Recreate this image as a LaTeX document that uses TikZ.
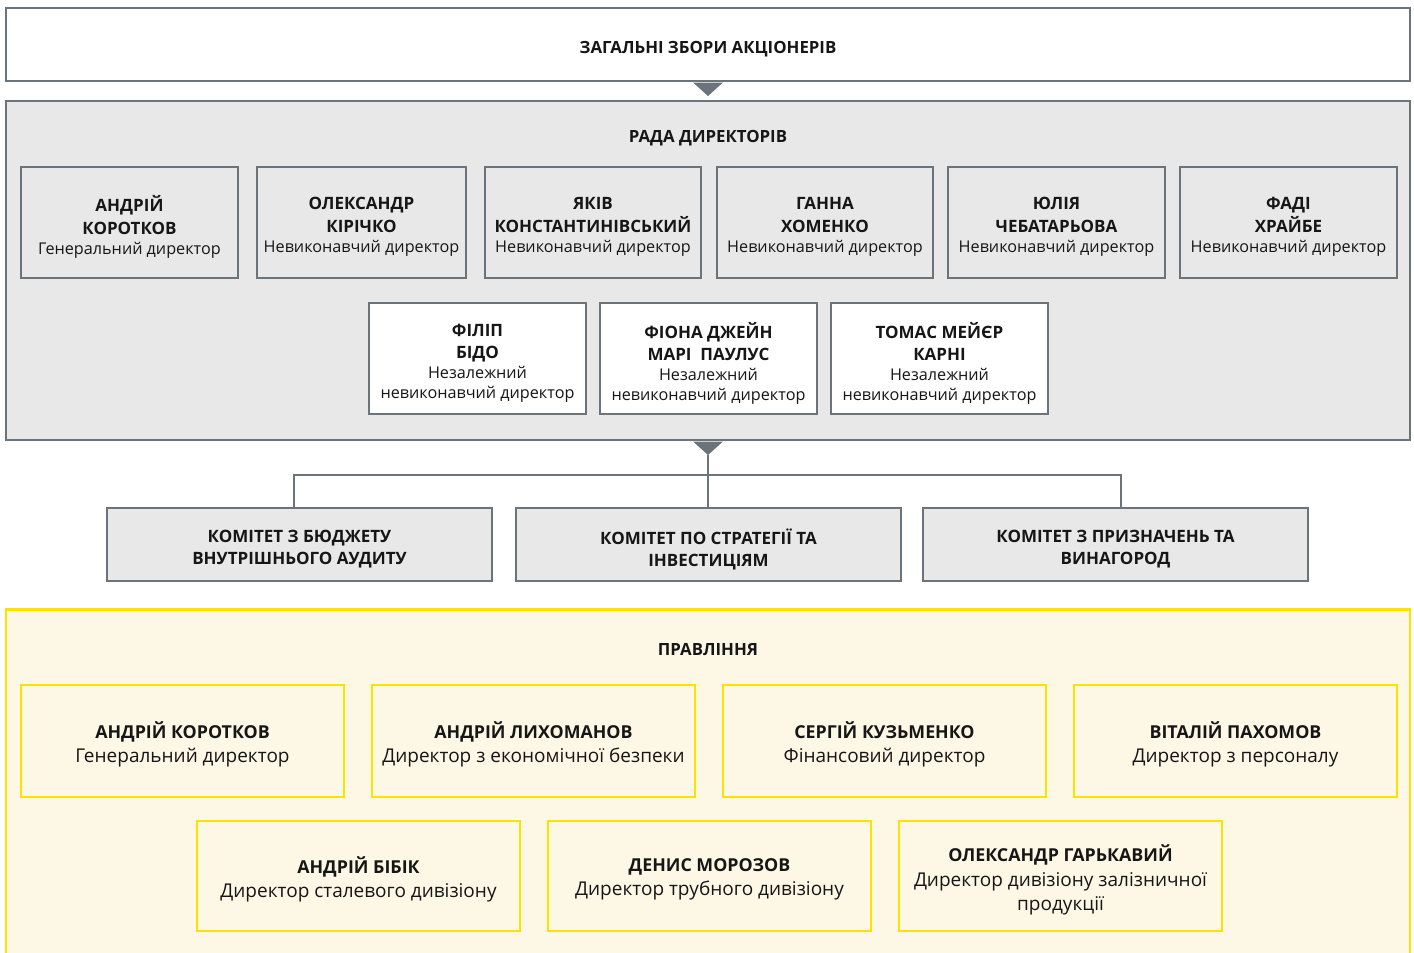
\documentclass[tikz,border=0pt]{standalone}
\usepackage{fontspec}
\setmainfont{Open Sans}
\definecolor{gline}{HTML}{6B737B}
\definecolor{gfill}{HTML}{E8E8E8}
\definecolor{yline}{HTML}{FFE100}
\definecolor{yfill}{HTML}{FDF7E5}
\definecolor{ink}{HTML}{161616}
\newcommand\nmA[1]{{\fontsize{17}{21}\selectfont\bfseries #1}}
\newcommand\sbA[1]{{\fontsize{16.2}{21}\selectfont #1}}
\newcommand\nmB[1]{{\fontsize{17.8}{24}\selectfont\bfseries #1}}
\newcommand\sbB[1]{{\fontsize{19}{24}\selectfont #1}}
\tikzset{
  gbox/.style={draw=gline, line width=2.4pt, rectangle, inner sep=0pt},
  ybox/.style={draw=yline, line width=2.6pt, fill=yfill, rectangle, inner sep=0pt},
  txA/.style={inner sep=0pt, align=center, text=ink, font=\fontsize{16}{21}\selectfont},
  txB/.style={inner sep=0pt, align=center, text=ink, font=\fontsize{18}{24}\selectfont},
  conn/.style={draw=gline, line width=1.2pt},
  ttl/.style={font=\fontsize{16.8}{20}\selectfont\bfseries, text=ink, inner sep=0pt},
}
\begin{document}
\begin{tikzpicture}[x=1pt,y=-1pt]
\useasboundingbox (0,0) rectangle (1414,953);
\clip (0,0) rectangle (1414,953);
\fill[white] (0,0) rectangle (1414,953);
% top
\node[gbox, fill=white, minimum width=1404, minimum height=73] (gm) at (708,44.5) {};
\node[ttl] (gmt) at (708,49) {ЗАГАЛЬНІ ЗБОРИ АКЦІОНЕРІВ};
% board
\node[gbox, fill=gfill, minimum width=1404, minimum height=339] (bd) at (708,270.5) {};
\node[ttl] (bdt) at (708,138) {РАДА ДИРЕКТОРІВ};
\fill[gline] (693,82.5) -- (723,82.5) -- (708,96) -- cycle;
% board row 1
\foreach \n/\xa/\xb/\a/\b/\s in {
  b1/21/238/АНДРІЙ/КОРОТКОВ/Генеральний директор,
  b2/257/466/ОЛЕКСАНДР/КІРІЧКО/Невиконавчий директор,
  b3/485/701/ЯКІВ/КОНСТАНТИНІВСЬКИЙ/Невиконавчий директор,
  b4/717/933/ГАННА/ХОМЕНКО/Невиконавчий директор,
  b5/948/1165/ЮЛІЯ/ЧЕБАТАРЬОВА/Невиконавчий директор,
  b6/1180/1397/ФАДІ/ХРАЙБЕ/Невиконавчий директор}{
  \node[gbox, fill=gfill, minimum width={\xb-\xa}, minimum height=111] (\n) at ({(\xa+\xb)/2},222.5) {};
  \node[txA] (\n t) at ({(\xa+\xb)/2},227) {\nmA{\a}\\[2pt]\nmA{\b}\\[-1pt]\sbA{\s}};
}
% board row 2
\foreach \n/\xa/\xb/\a/\b in {
  r1/369/586/ФІЛІП/БІДО,
  r2/600/817/ФІОНА ДЖЕЙН/МАРІ\ \ ПАУЛУС,
  r3/831/1048/ТОМАС МЕЙЄР/КАРНІ}{
  \node[gbox, fill=white, minimum width={\xb-\xa}, minimum height=111] (\n) at ({(\xa+\xb)/2},358.5) {};
  \node[txA] (\n t) at ({(\xa+\xb)/2},363.5) {\nmA{\a}\\[1pt]\nmA{\b}\\[-1pt]\sbA{Незалежний}\\[-1pt]\sbA{невиконавчий директор}};
}
\fill[gline] (693,441.5) -- (723,441.5) -- (708,455) -- cycle;
\coordinate (tip) at (708,455);
% committees
\node[gbox, fill=gfill, minimum width=385, minimum height=73] (c1) at (299.5,544.5) {};
\node[gbox, fill=gfill, minimum width=385, minimum height=73] (c2) at (708.5,544.5) {};
\node[gbox, fill=gfill, minimum width=385, minimum height=73] (c3) at (1115.5,544.5) {};
\node[txA, font=\fontsize{16}{22}\selectfont] (c1t) at (299.5,549) {\nmA{КОМІТЕТ З БЮДЖЕТУ}\\\nmA{ВНУТРІШНЬОГО АУДИТУ}};
\node[txA, font=\fontsize{16}{22}\selectfont] (c2t) at (708.5,549) {\nmA{КОМІТЕТ ПО СТРАТЕГІЇ ТА}\\\nmA{ІНВЕСТИЦІЯМ}};
\node[txA, font=\fontsize{16}{22}\selectfont] (c3t) at (1115.5,549) {\nmA{КОМІТЕТ З ПРИЗНАЧЕНЬ ТА}\\\nmA{ВИНАГОРОД}};
\coordinate (hl) at (294,475);
\coordinate (hr) at (1121,475);
\draw[conn] (tip) -- (tip |- c2.north);
\draw[conn] (hl |- c1.north) -- (hl) -- (hr) -- (hr |- c3.north);
% management
\node[ybox, minimum width=1404, minimum height=370, anchor=north] (mg) at (708,608) {};
\node[ttl] (mgt) at (708,650) {ПРАВЛІННЯ};
\foreach \n/\xa/\xb/\a/\s in {
  m1/21/344/АНДРІЙ КОРОТКОВ/Генеральний директор,
  m2/372/695/АНДРІЙ ЛИХОМАНОВ/Директор з економічної безпеки,
  m3/723/1046/СЕРГІЙ КУЗЬМЕНКО/Фінансовий директор,
  m4/1074/1397/ВІТАЛІЙ ПАХОМОВ/Директор з персоналу}{
  \node[ybox, minimum width={\xb-\xa}, minimum height=112] (\n) at ({(\xa+\xb)/2},741) {};
  \node[txB] (\n t) at ({(\xa+\xb)/2},744) {\nmB{\a}\\\sbB{\s}};
}
\foreach \n/\xa/\xb/\a/\s in {
  m5/197/520/АНДРІЙ БІБІК/Директор сталевого дивізіону,
  m6/548/871/ДЕНИС МОРОЗОВ/Директор трубного дивізіону}{
  \node[ybox, minimum width={\xb-\xa}, minimum height=110] (\n) at ({(\xa+\xb)/2},876) {};
  \node[txB] (\n t) at ({(\xa+\xb)/2},879.5) {\nmB{\a}\\\sbB{\s}};
}
\node[ybox, minimum width=323, minimum height=110] (m7) at (1060.5,876) {};
\node[txB] (m7t) at (1060.5,880) {\nmB{ОЛЕКСАНДР ГАРЬКАВИЙ}\\[1pt]\sbB{Директор дивізіону залізничної}\\\sbB{продукції}};
\end{tikzpicture}
\end{document}
